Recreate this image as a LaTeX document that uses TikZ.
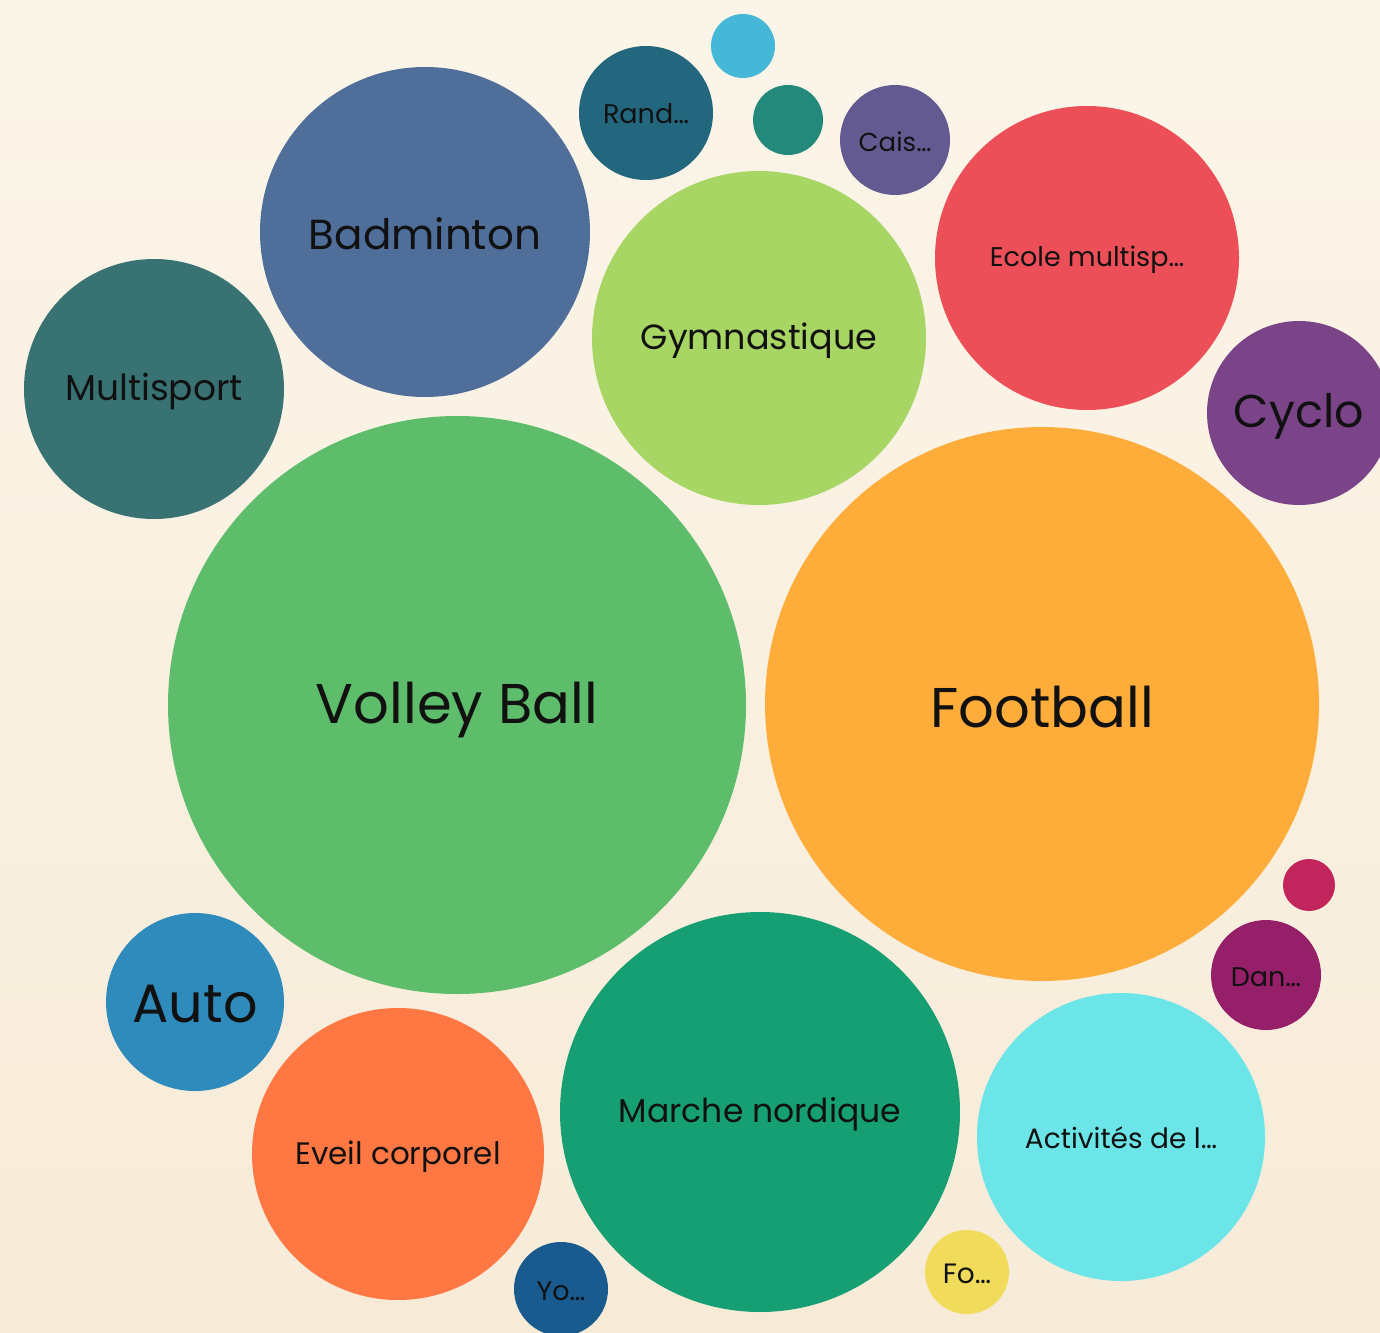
\documentclass[tikz,border=0pt]{standalone}
\usepackage{fontspec}
\setmainfont{Poppins}
\definecolor{bgtop}{RGB}{251,245,233}
\definecolor{bgbottom}{RGB}{247,235,216}
\definecolor{cvolley}{RGB}{93,189,106}
\definecolor{cfoot}{RGB}{255,173,58}
\definecolor{cmarche}{RGB}{23,159,116}
\definecolor{cgym}{RGB}{168,214,101}
\definecolor{cbad}{RGB}{79,110,153}
\definecolor{cecole}{RGB}{236,79,88}
\definecolor{cactiv}{RGB}{108,229,232}
\definecolor{ceveil}{RGB}{255,120,67}
\definecolor{cmulti}{RGB}{56,114,115}
\definecolor{ccyclo}{RGB}{123,68,136}
\definecolor{cauto}{RGB}{46,139,187}
\definecolor{crand}{RGB}{34,103,126}
\definecolor{ccais}{RGB}{100,90,146}
\definecolor{cdan}{RGB}{149,31,105}
\definecolor{cyo}{RGB}{25,91,142}
\definecolor{cfo}{RGB}{240,220,90}
\definecolor{cteal}{RGB}{34,137,123}
\definecolor{csky}{RGB}{69,184,216}
\definecolor{ccrim}{RGB}{194,37,92}
\definecolor{labelink}{RGB}{17,17,17}
\tikzset{
  bubbletext/.style={text=labelink, inner sep=0pt},
}
\newcommand{\bfs}[1]{\fontsize{#1}{#1}\selectfont}
\begin{document}
\begin{tikzpicture}[x=1pt,y=-1pt]
            \shade[top color=bgtop, bottom color=bgbottom] (0,0) rectangle (1380,1332);
            \clip (0,0) rectangle (1380,1332);
            \fill[cvolley] (457,705) circle (289);
            \fill[cfoot] (1042,704) circle (277);
            \fill[cmarche] (760,1112) circle (200);
            \fill[cgym] (759,338) circle (167);
            \fill[cbad] (425,232) circle (165);
            \fill[cecole] (1087,258) circle (152);
            \fill[cactiv] (1121,1137) circle (144);
            \fill[ceveil] (398,1154) circle (146);
            \fill[cmulti] (154,389) circle (130);
            \fill[ccyclo] (1299,413) circle (92);
            \fill[cauto] (195,1002) circle (89);
            \fill[crand] (646,113) circle (67);
            \fill[ccais] (895,140) circle (55);
            \fill[cdan] (1266,975) circle (55);
            \fill[cyo] (561,1289) circle (47);
            \fill[cfo] (967,1272) circle (42);
            \fill[cteal] (788,120) circle (35);
            \fill[csky] (743,46) circle (32);
            \fill[ccrim] (1309,885) circle (26);
            \node[bubbletext] (volley) at (457,710) {\bfs{56}Volley Ball};
            \node[bubbletext] (football) at (1042,707) {\bfs{56}Football};
            \node[bubbletext] (marche) at (760,1114) {\bfs{33}Marche nordique};
            \node[bubbletext] (gym) at (759,341) {\bfs{35}Gymnastique};
            \node[bubbletext] (badminton) at (425,234) {\bfs{42}Badminton};
            \node[bubbletext] (ecole) at (1087,260) {\bfs{27}Ecole multisp…};
            \node[bubbletext] (activ) at (1121,1138) {\bfs{28}Activités de l…};
            \node[bubbletext] (eveil) at (398,1157) {\bfs{31}Eveil corporel};
            \node[bubbletext] (multi) at (154,391) {\bfs{36}Multisport};
            \node[bubbletext] (cyclo) at (1299,416) {\bfs{46}Cyclo};
            \node[bubbletext] (auto) at (195,1004) {\bfs{54}Auto};
            \node[bubbletext] (rand) at (646,114) {\bfs{27}Rand…};
            \node[bubbletext] (cais) at (895,142) {\bfs{26}Cais…};
            \node[bubbletext] (dan) at (1266,977) {\bfs{27}Dan…};
            \node[bubbletext] (yo) at (561,1291) {\bfs{27}Yo…};
            \node[bubbletext] (fo) at (967,1274) {\bfs{28}Fo…};
        \end{tikzpicture}
\end{document}
